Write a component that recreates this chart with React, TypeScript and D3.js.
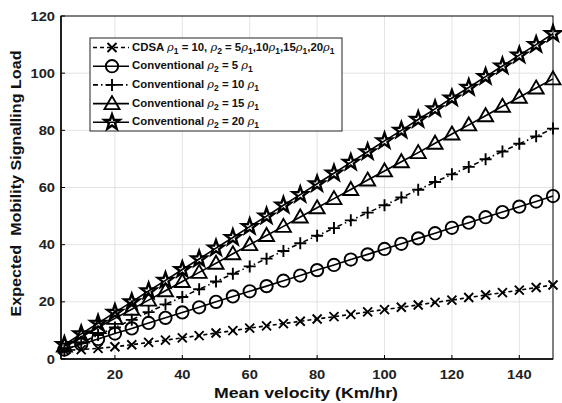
import { useEffect, useRef } from "react";
import * as d3 from "d3";

const width = 562;
const height = 403;
const margin = { top: 16, right: 9, bottom: 44, left: 61 };

const velocity = [5, 10, 15, 20, 25, 30, 35, 40, 45, 50, 55, 60, 65, 70, 75, 80, 85, 90, 95, 100, 105, 110, 115, 120, 125, 130, 135, 140, 145, 150];

const cdsa = [3.0, 3.3, 3.7, 4.3, 5.0, 5.8, 6.6, 7.4, 8.2, 9.1, 9.9, 10.8, 11.6, 12.4, 13.2, 14.0, 14.8, 15.6, 16.5, 17.3, 18.1, 18.9, 19.8, 20.6, 21.5, 22.4, 23.2, 24.1, 25.0, 25.9];
const conv5 = [3.3, 5.2, 7.0, 8.9, 10.7, 12.6, 14.4, 16.3, 18.1, 20.0, 21.9, 23.7, 25.5, 27.4, 29.2, 31.1, 32.9, 34.8, 36.6, 38.5, 40.3, 42.2, 44.0, 45.9, 47.7, 49.6, 51.4, 53.3, 55.1, 57.0];
const conv10 = [3.0, 5.7, 8.4, 11.0, 13.7, 16.4, 19.1, 21.7, 24.4, 27.1, 29.8, 32.4, 35.1, 37.8, 40.5, 43.1, 45.8, 48.5, 51.2, 53.8, 56.5, 59.2, 61.9, 64.6, 67.2, 69.9, 72.6, 75.3, 77.9, 80.6];
const conv15 = [4.5, 7.7, 11.0, 14.2, 17.4, 20.6, 23.9, 27.1, 30.3, 33.5, 36.8, 40.0, 43.2, 46.4, 49.7, 52.9, 56.1, 59.3, 62.6, 65.8, 69.0, 72.2, 75.5, 78.7, 81.9, 85.1, 88.4, 91.6, 94.8, 98.0];
const conv20 = [5.0, 8.8, 12.5, 16.3, 20.0, 23.8, 27.5, 31.3, 35.0, 38.8, 42.5, 46.3, 50.0, 53.8, 57.5, 61.3, 65.0, 68.8, 72.5, 76.3, 80.0, 83.8, 87.5, 91.3, 95.0, 98.8, 102.5, 106.3, 110.0, 113.8];

const seriesNames = [
  "CDSA ρ_1 = 10, ρ_2 = 5ρ_1,10ρ_1,15ρ_1,20ρ_1",
  "Conventional ρ_2 = 5 ρ_1",
  "Conventional ρ_2 = 10 ρ_1",
  "Conventional ρ_2 = 15 ρ_1",
  "Conventional ρ_2 = 20 ρ_1",
];
const seriesValues = [cdsa, conv5, conv10, conv15, conv20];
const seriesMarkers = ["x", "circle", "plus", "triangle", "star"];
const seriesDash = ["4,3", null, "5,3,1.5,3", null, null];

const xTicks = [20, 40, 60, 80, 100, 120, 140];
const yTicks = [0, 20, 40, 60, 80, 100, 120];

const font = "'Liberation Sans', Arial, sans-serif";

const markerPath = (kind: string) => {
  if (kind === "x") return "M-4.5,-4.5L4.5,4.5M-4.5,4.5L4.5,-4.5";
  if (kind === "plus") return "M-6,0L6,0M0,-6L0,6";
  if (kind === "circle") return d3.symbol(d3.symbolCircle, 120)() as string;
  if (kind === "triangle") return "M0,-7.5L7.5,5.5L-7.5,5.5Z";
  const pts: string[] = [];
  for (let i = 0; i < 10; i++) {
    const r = i % 2 === 0 ? 8 : 3.2;
    const a = (i * Math.PI) / 5 - Math.PI / 2;
    pts.push(`${(r * Math.cos(a)).toFixed(2)},${(r * Math.sin(a)).toFixed(2)}`);
  }
  return `M${pts.join("L")}Z`;
};

const App = () => {
  const svgRef = useRef<SVGSVGElement>(null);

  useEffect(() => {
    document.body.style.margin = "0";
    const svg = d3.select(svgRef.current);
    svg.selectAll("*").remove();

    const x = d3.scaleLinear().domain([4, 150]).range([margin.left, width - margin.right]);
    const y = d3.scaleLinear().domain([0, 120]).range([height - margin.bottom, margin.top]);

    svg.append("rect").attr("width", width).attr("height", height).attr("fill", "#fff");

    // grid
    const grid = svg.append("g").attr("stroke", "#e3e3e3").attr("stroke-width", 1);
    xTicks.forEach((t) =>
      grid.append("line").attr("x1", x(t)).attr("x2", x(t)).attr("y1", y(0)).attr("y2", y(120))
    );
    yTicks.slice(1, -1).forEach((t) =>
      grid.append("line").attr("x1", x(4)).attr("x2", x(150)).attr("y1", y(t)).attr("y2", y(t))
    );

    // series
    const line = d3
      .line<number>()
      .x((_, i) => x(velocity[i]))
      .y((d) => y(d));

    seriesValues.forEach((vals, s) => {
      const g = svg.append("g");
      g.append("path")
        .attr("d", line(vals))
        .attr("fill", "none")
        .attr("stroke", "#000")
        .attr("stroke-width", 1.6)
        .attr("stroke-dasharray", seriesDash[s]);
      g.selectAll("path.m")
        .data(vals)
        .join("path")
        .attr("class", "m")
        .attr("transform", (d, i) => `translate(${x(velocity[i])},${y(d)})`)
        .attr("d", markerPath(seriesMarkers[s]))
        .attr("fill", "none")
        .attr("stroke", "#000")
        .attr("stroke-width", seriesMarkers[s] === "star" ? 2.4 : 1.9)
        .attr("stroke-linejoin", "miter");
    });

    // axes box
    svg.append("rect")
      .attr("x", x(4)).attr("y", y(120))
      .attr("width", x(150) - x(4)).attr("height", y(0) - y(120))
      .attr("fill", "none").attr("stroke", "#000").attr("stroke-width", 1);
    svg.append("line")
      .attr("x1", x(4)).attr("x2", x(150)).attr("y1", y(0)).attr("y2", y(0))
      .attr("stroke", "#000").attr("stroke-width", 1.5);
    svg.append("line")
      .attr("x1", x(4)).attr("x2", x(4)).attr("y1", y(0)).attr("y2", y(120))
      .attr("stroke", "#000").attr("stroke-width", 1.5);

    const ticks = svg.append("g").attr("stroke", "#000").attr("stroke-width", 1);
    xTicks.forEach((t) =>
      ticks.append("line").attr("x1", x(t)).attr("x2", x(t)).attr("y1", y(0)).attr("y2", y(0) - 4)
    );
    yTicks.forEach((t) =>
      ticks.append("line").attr("x1", x(4)).attr("x2", x(4) + 4).attr("y1", y(t)).attr("y2", y(t))
    );

    // tick labels, slightly widened like the reference
    const labels = svg.append("g")
      .attr("font-family", font).attr("font-weight", "bold").attr("font-size", 13).attr("fill", "#222");
    xTicks.forEach((t) =>
      labels.append("text")
        .attr("transform", `translate(${x(t)},${y(0) + 20}) scale(1.13,1)`)
        .attr("text-anchor", "middle").text(t)
    );
    yTicks.forEach((t) =>
      labels.append("text")
        .attr("transform", `translate(${x(4) - 6},${y(t) + 4.5}) scale(1.13,1)`)
        .attr("text-anchor", "end").text(t)
    );

    svg.append("text")
      .attr("x", 306).attr("y", 398)
      .attr("text-anchor", "middle")
      .attr("font-family", font).attr("font-weight", "bold").attr("font-size", 15).attr("fill", "#111")
      .attr("textLength", 184).attr("lengthAdjust", "spacingAndGlyphs")
      .text("Mean velocity (Km/hr)");
    svg.append("text")
      .attr("transform", `translate(21,${y(60) - 4}) rotate(-90)`)
      .attr("text-anchor", "middle")
      .attr("font-family", font).attr("font-weight", "bold").attr("font-size", 15).attr("fill", "#111")
      .attr("textLength", 266).attr("lengthAdjust", "spacingAndGlyphs")
      .attr("xml:space", "preserve")
      .style("white-space", "pre")
      .text("Expected  Mobility Signalling Load");

    // legend
    const lx = 90, ly = 38, lw = 252, lh = 93;
    const legend = svg.append("g");
    legend.append("rect")
      .attr("x", lx).attr("y", ly).attr("width", lw).attr("height", lh)
      .attr("fill", "#fff").attr("stroke", "#222").attr("stroke-width", 1);
    seriesNames.forEach((name, s) => {
      const cy = ly + 9.5 + s * 18.7;
      legend.append("line")
        .attr("x1", lx + 3).attr("x2", lx + 39).attr("y1", cy).attr("y2", cy)
        .attr("stroke", "#000").attr("stroke-width", 1.6)
        .attr("stroke-dasharray", seriesDash[s]);
      legend.append("path")
        .attr("transform", `translate(${lx + 22},${cy})`)
        .attr("d", markerPath(seriesMarkers[s]))
        .attr("fill", "none").attr("stroke", "#000")
        .attr("stroke-width", seriesMarkers[s] === "star" ? 2.4 : 1.9);
      const text = legend.append("text")
        .attr("x", lx + 42).attr("y", cy + 3)
        .attr("font-family", font).attr("font-weight", "bold").attr("font-size", 11.4).attr("fill", "#111")
        .attr("xml:space", "preserve").style("white-space", "pre");
      name.split(/(ρ_\d)/).forEach((part) => {
        if (!part) return;
        if (part.startsWith("ρ_")) {
          text.append("tspan").attr("font-style", "italic").attr("font-weight", "normal")
            .attr("font-family", "'DejaVu Serif', serif").text("ρ");
          text.append("tspan").attr("baseline-shift", "-3").attr("font-size", 8.5).text(part.slice(2));
        } else {
          text.append("tspan").text(part);
        }
      });
    });
  }, []);

  return <svg ref={svgRef} width={width} height={height} style={{ display: "block" }} />;
};

export default App;
